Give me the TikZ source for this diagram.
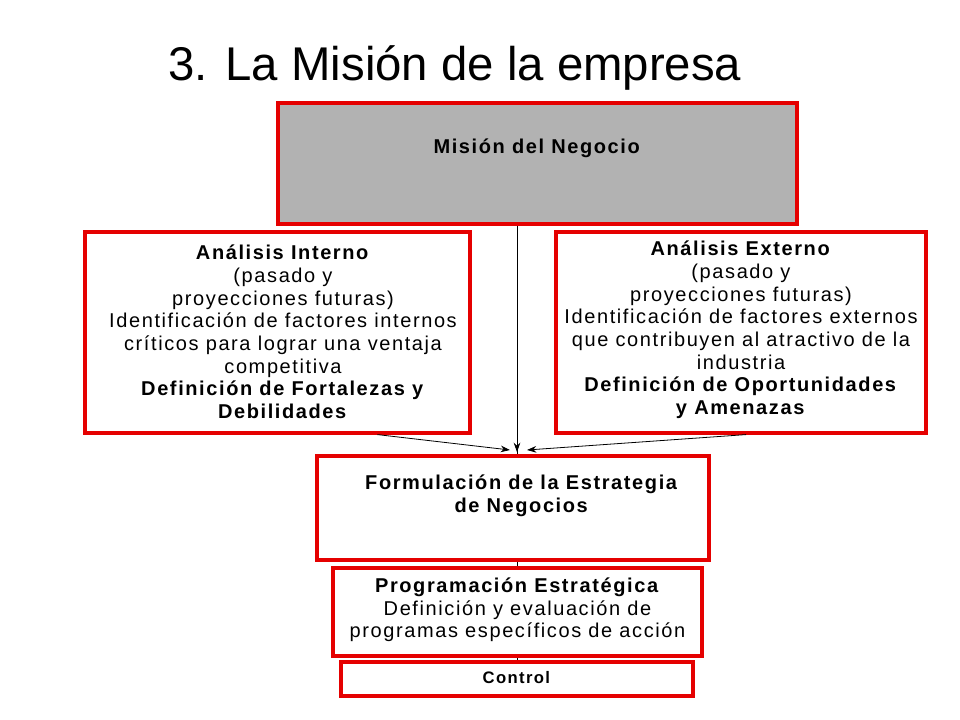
\documentclass[tikz,border=0pt]{standalone}
\usepackage{fontspec}
\usetikzlibrary{arrows.meta}
\setmainfont{Liberation Sans}
\newfontfamily\spaced[LetterSpace=8]{Liberation Sans}
\begin{document}
\begin{tikzpicture}[x=0.75pt,y=-0.75pt,
 box/.style={draw=red!90!black,line width=2.4pt,inner sep=0pt},
 txt/.style={align=center,font=\spaced\fontsize{15}{17}\selectfont,inner sep=0pt},
 arr/.style={-{Stealth[length=7pt,width=5pt]},semithick}]
\useasboundingbox (0,0) rectangle (960,720);
\node[font=\fontsize{35.5}{40}\selectfont,anchor=center] (title) at (455,68) {3. La Misión de la empresa};
\draw (517,224) -- (517,690);
\node[box,fill=black!30,minimum width=519*0.75pt,minimum height=121*0.75pt] (mis) at (537.5,163.5) {};
\node[txt] (mist) at (537.5,148) {\textbf{Misión del Negocio}};
\node[box,fill=white,minimum width=385*0.75pt,minimum height=201*0.75pt] (int) at (277.5,332.5) {};
\node[txt] (intt) at (283,332) {\textbf{Análisis Interno}\\(pasado y\\proyecciones futuras)\\Identificación de factores internos\\críticos para lograr una ventaja\\competitiva\\\textbf{Definición de Fortalezas y}\\\textbf{Debilidades}};
\node[box,fill=white,minimum width=370*0.75pt,minimum height=201*0.75pt] (ext) at (741,332.5) {};
\node[txt] (extt) at (741,330) {\textbf{Análisis Externo}\\(pasado y\\proyecciones futuras)\\Identificación de factores externos\\que contribuyen al atractivo de la\\industria\\\textbf{Definición de Oportunidades}\\\textbf{y Amenazas}};
\node[box,fill=white,minimum width=392*0.75pt,minimum height=104*0.75pt] (form) at (513,508) {};
\node[txt] (formt) at (522,496) {\textbf{Formulación de la Estrategia}\\\textbf{de Negocios}};
\node[box,fill=white,minimum width=369*0.75pt,minimum height=88*0.75pt] (prog) at (517.5,612) {};
\node[txt] (progt) at (517.5,610) {\textbf{Programación Estratégica}\\Definición y evaluación de\\programas específicos de acción};
\node[box,fill=white,minimum width=352*0.75pt,minimum height=34*0.75pt] (ctl) at (517,679) {};
\node[txt,font=\spaced\fontsize{12.5}{14}\selectfont] (ctlt) at (517,678) {\textbf{Control}};
\coordinate (m) at (517,452);
\coordinate (ml) at (510,450);
\coordinate (mr) at (527,450);
\draw[arr] (mis.south -| m) -- (m);
\draw[arr] (int.south) ++(100,0) -- (ml);
\draw[arr] (ext.south) ++(5,0) -- (mr);
\end{tikzpicture}
\end{document}
